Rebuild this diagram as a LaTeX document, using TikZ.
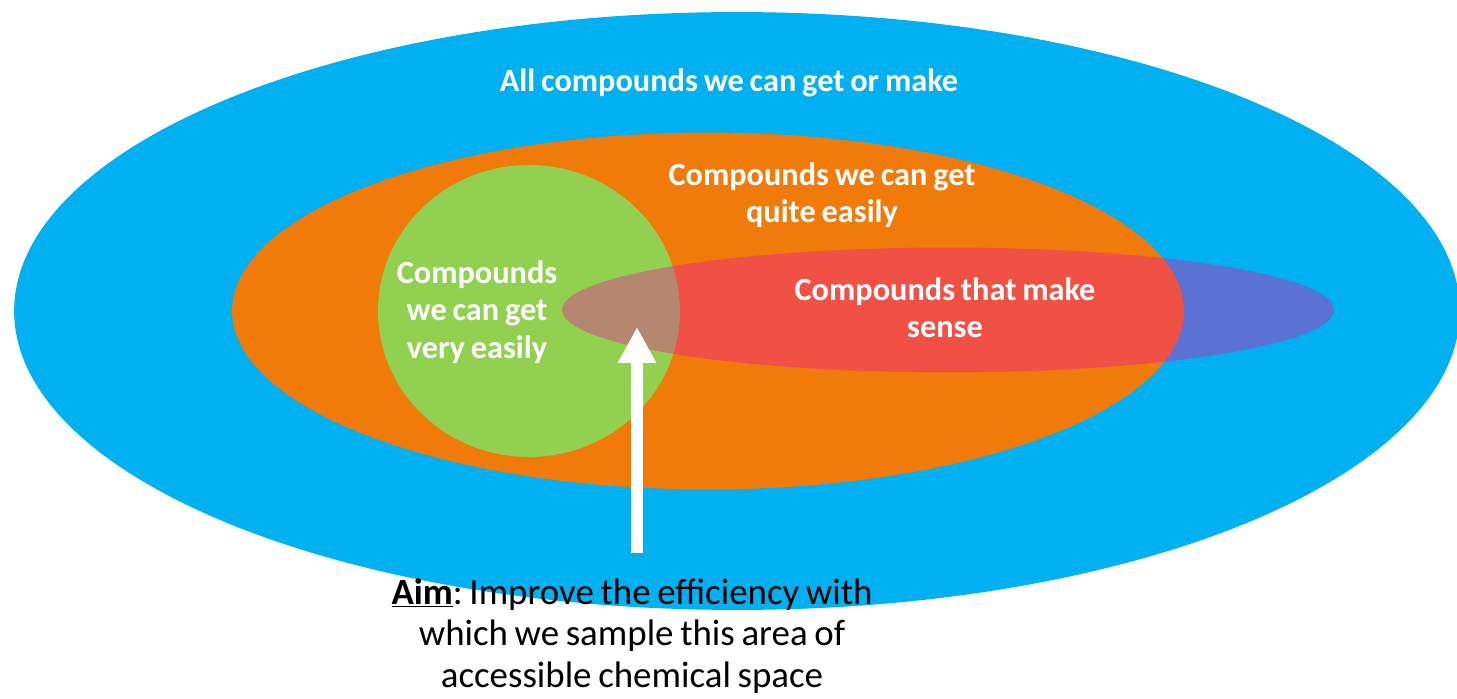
\documentclass[tikz,border=0pt]{standalone}
\usepackage{fontspec}
\setmainfont{Carlito}[WordSpace=0.8]
\usetikzlibrary{arrows.meta,positioning}
\definecolor{skyblue}{HTML}{00B0F0}
\definecolor{orangefill}{HTML}{F07B0B}
\definecolor{limegreen}{HTML}{92D050}
\definecolor{sensefill}{RGB}{240,13,165}
\tikzset{
  spacetext/.style={
    text=white, align=center, inner sep=0pt,
    font=\fontsize{18.4}{21.2}\selectfont\bfseries
  },
  aimtext/.style={
    text=black, align=center, inner sep=0pt,
    font=\fontsize{21}{23.8}\selectfont\frenchspacing
  },
  bigarrow/.style={-{Triangle[width=0.72cm,length=0.72cm]}, line width=0.24cm, draw=white}
}

\begin{document}
\begin{tikzpicture}[x=0.02cm, y=-0.02cm]
  \useasboundingbox (0,0) rectangle (1457,699);
  % nested regions of chemical space
  \fill[skyblue] (737,311) ellipse [x radius=14.46cm, y radius=5.98cm];
  \fill[orangefill] (708,311) ellipse [x radius=9.52cm, y radius=3.57cm];
  \fill[limegreen] (529,311) ellipse [x radius=3.02cm, y radius=2.92cm];
  \fill[sensefill, fill opacity=0.375] (948,310) ellipse [x radius=7.72cm, y radius=1.25cm];
  % labels
  \node[spacetext] (all) at (729,83) {All compounds we can get or make};
  \node[spacetext] (quite) at (822,195) {Compounds we can get\\quite easily};
  \node[spacetext] (very) at (477,312) {Compounds\\we can get\\very easily};
  \node[spacetext] (sense) at (945,308) {Compounds that make\\sense};
  \node[aimtext] (aim) at (632,636) {\underline{\textbf{Aim}}: Improve the efficiency with\\which we sample this area of\\accessible chemical space};
  \coordinate (aimfoot) at (637,553);
  \coordinate (aimtip) at (637,327);
  \draw[bigarrow] (aimfoot) -- (aimtip);
\end{tikzpicture}
\end{document}
